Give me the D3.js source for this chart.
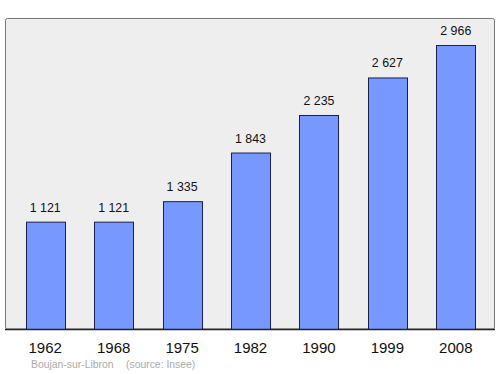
<!DOCTYPE html>
<html><head><meta charset="utf-8">
<script src="https://cdn.jsdelivr.net/npm/d3@7"></script>
<style>body{margin:0;background:#fff}svg{display:block}</style>
</head><body>
<svg id="c" width="500" height="374"></svg>
<script>
const years = ["1962","1968","1975","1982","1990","1999","2008"];
const population = [1121,1121,1335,1843,2235,2627,2966];
const valueLabels = ["1 121","1 121","1 335","1 843","2 235","2 627","2 966"];
const sourceText = ["Boujan-sur-Libron", "(source: Insee)"];

const svg = d3.select("#c");
const panel = {x0:5.5, y0:18.5, x1:494.5, y1:329};
svg.append("rect").attr("x",panel.x0).attr("y",panel.y0)
  .attr("width",panel.x1-panel.x0).attr("height",panel.y1-panel.y0)
  .attr("rx",2).attr("fill","#eeeeee").attr("stroke","#777").attr("stroke-width",1);

const x = d3.scaleBand().domain(years).range([11,490]).paddingInner(0.43).paddingOuter(0.215);
const y = d3.scaleLinear().domain([0,3248]).range([329,18]);

svg.selectAll("rect.bar").data(population).join("rect").attr("class","bar")
  .attr("x",(d,i)=>Math.round(x(years[i]))+0.5).attr("y",d=>y(d)+0.5)
  .attr("width",x.bandwidth()).attr("height",d=>329-y(d))
  .attr("fill","#7799ff").attr("stroke","#1a1f4f").attr("stroke-width",1);

svg.selectAll("text.val").data(population).join("text").attr("class","val")
  .attr("x",(d,i)=>x(years[i])+x.bandwidth()/2).attr("y",d=>y(d)-10)
  .attr("text-anchor","middle").attr("font-family","Liberation Sans, Arial, sans-serif")
  .attr("font-size",12.4).attr("fill","#111").text((d,i)=>valueLabels[i]);

svg.append("line").attr("x1",5).attr("x2",495).attr("y1",329.5).attr("y2",329.5)
  .attr("stroke","#222").attr("stroke-width",1.5);

const xAxis = d3.axisBottom(x).tickSize(0).tickPadding(0);
const ax = svg.append("g").attr("transform","translate(0,0)").call(xAxis);
ax.select(".domain").remove();
ax.selectAll("text").attr("font-family","Liberation Sans, Arial, sans-serif")
  .attr("font-size",15).attr("fill","#111").attr("y",353).attr("dy",0);

svg.append("text").attr("x",31).attr("y",367.5).attr("font-family","Liberation Sans, Arial, sans-serif")
  .attr("font-size",10.4).attr("fill","#aaa").text(sourceText[0]);
svg.append("text").attr("x",126).attr("y",367.5).attr("font-family","Liberation Sans, Arial, sans-serif")
  .attr("font-size",10.4).attr("fill","#aaa").text(sourceText[1]);
</script>
</body></html>
